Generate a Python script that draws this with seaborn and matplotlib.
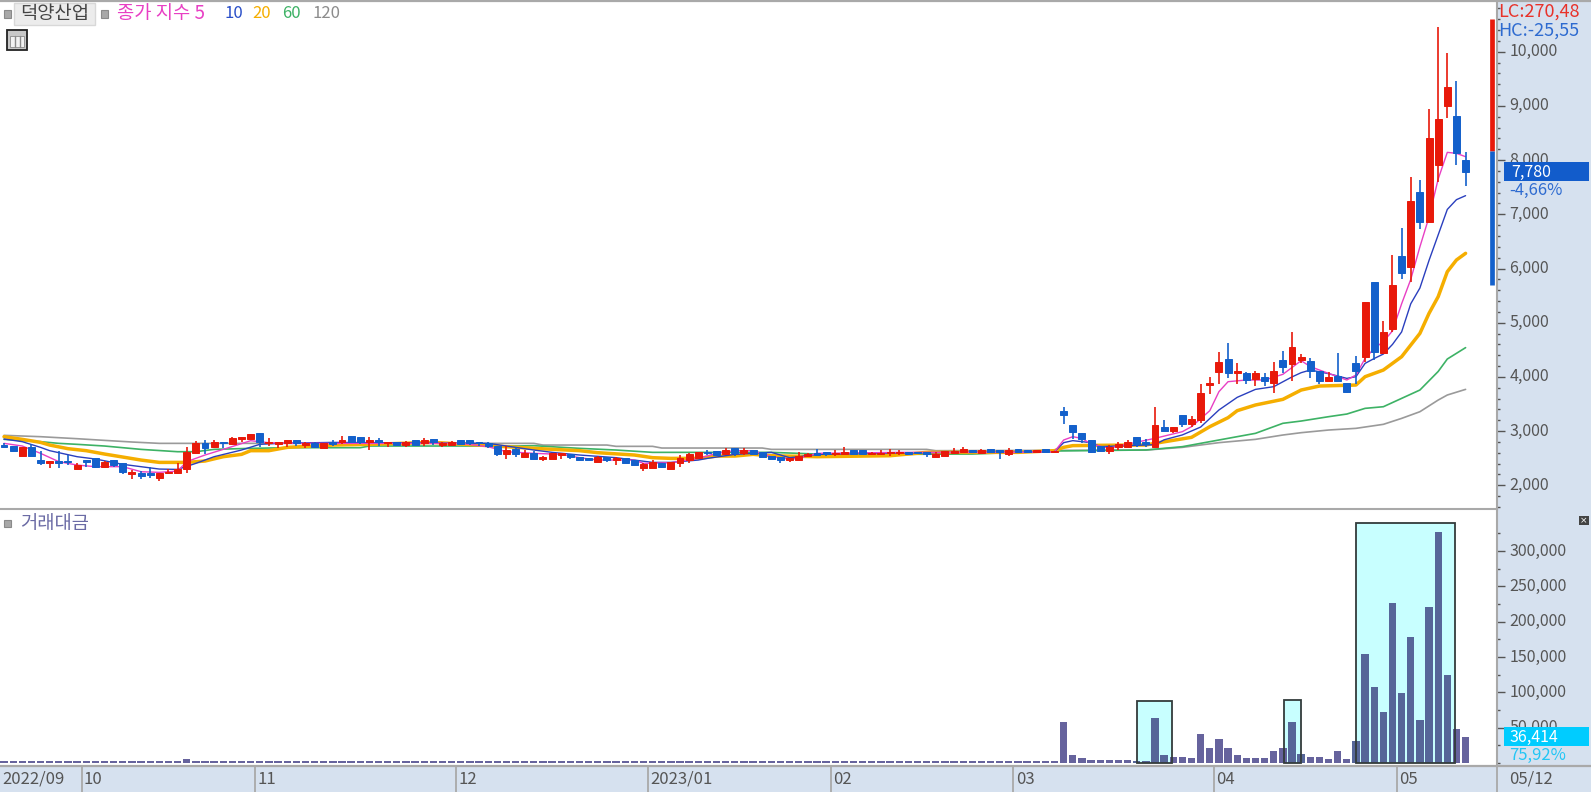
import matplotlib
matplotlib.use('Agg')
import matplotlib.pyplot as plt
from matplotlib.lines import Line2D
from matplotlib.patches import Rectangle
from matplotlib.ticker import FixedLocator, FuncFormatter
from matplotlib.transforms import ScaledTranslation
import numpy as np
import pandas as pd
import seaborn as sns

# candles
price_open = [
    2731, 2725, 2540, 2700, 2466, 2417, 2454, 2454, 2294, 2448,
    2497, 2344, 2466, 2405, 2208, 2233, 2220, 2128, 2220, 2220,
    2294, 2602, 2774, 2712, 2805, 2762, 2848, 2848, 2971, 2774,
    2756, 2774, 2835, 2743, 2774, 2694, 2805, 2792, 2915, 2897,
    2805, 2835, 2774, 2792, 2749, 2835, 2774, 2854, 2743, 2749,
    2835, 2835, 2805, 2774, 2725, 2577, 2663, 2516, 2590, 2485,
    2485, 2559, 2577, 2528, 2497, 2430, 2528, 2466, 2497, 2466,
    2313, 2319, 2417, 2294, 2405, 2466, 2510, 2620, 2639, 2571,
    2682, 2590, 2651, 2608, 2546, 2516, 2466, 2466, 2546, 2571,
    2590, 2571, 2571, 2651, 2651, 2571, 2571, 2590, 2590, 2608,
    2608, 2596, 2516, 2546, 2590, 2620, 2639, 2590, 2669, 2633,
    2571, 2669, 2652, 2621, 2664, 2608, 3365, 3113, 2971, 2836,
    2725, 2633, 2713, 2713, 2891, 2793, 2701, 3082, 3002, 3303,
    3125, 3205, 3851, 4091, 4337, 4066, 4066, 3961, 4005, 3881,
    4306, 4232, 4312, 4299, 4109, 3924, 4022, 3893, 4250, 4361,
    5744, 4447, 4890, 6237, 6034, 7405, 6864, 7916, 8992, 8820, 8000,
]
price_close = [
    2706, 2626, 2712, 2540, 2405, 2436, 2405, 2423, 2374, 2430,
    2344, 2423, 2374, 2239, 2251, 2177, 2190, 2233, 2251, 2306,
    2608, 2786, 2682, 2805, 2774, 2866, 2885, 2946, 2805, 2805,
    2805, 2835, 2774, 2774, 2712, 2774, 2768, 2835, 2805, 2792,
    2835, 2792, 2805, 2743, 2792, 2743, 2835, 2792, 2774, 2792,
    2762, 2774, 2774, 2725, 2571, 2651, 2577, 2602, 2485, 2510,
    2602, 2602, 2516, 2466, 2466, 2516, 2466, 2485, 2405, 2374,
    2393, 2423, 2344, 2423, 2510, 2571, 2608, 2590, 2559, 2651,
    2590, 2651, 2571, 2516, 2485, 2466, 2485, 2546, 2577, 2559,
    2577, 2590, 2620, 2577, 2571, 2590, 2590, 2608, 2608, 2577,
    2590, 2577, 2571, 2639, 2639, 2669, 2620, 2651, 2620, 2620,
    2651, 2608, 2608, 2652, 2608, 2639, 3291, 2977, 2848, 2621,
    2633, 2701, 2756, 2805, 2762, 2762, 3113, 3008, 3082, 3125,
    3223, 3697, 3894, 4281, 4066, 4115, 3943, 4066, 3925, 4115,
    4177, 4558, 4374, 4109, 3924, 4004, 3930, 3727, 4115, 5388,
    4459, 4834, 5695, 5923, 7239, 6864, 8402, 8765, 9343, 8125, 7780,
]
price_high = [
    2774, 2725, 2712, 2762, 2639, 2454, 2639, 2559, 2405, 2466,
    2497, 2448, 2466, 2405, 2282, 2270, 2331, 2233, 2300, 2417,
    2700, 2817, 2835, 2835, 2805, 2885, 2897, 2946, 2971, 2866,
    2805, 2835, 2835, 2792, 2805, 2774, 2835, 2915, 2915, 2897,
    2885, 2866, 2805, 2792, 2823, 2835, 2866, 2854, 2792, 2817,
    2835, 2835, 2805, 2805, 2725, 2725, 2712, 2651, 2639, 2540,
    2602, 2602, 2577, 2528, 2497, 2546, 2528, 2516, 2497, 2466,
    2405, 2466, 2417, 2423, 2559, 2602, 2608, 2651, 2639, 2694,
    2682, 2694, 2651, 2608, 2546, 2516, 2485, 2620, 2602, 2663,
    2620, 2651, 2700, 2651, 2651, 2620, 2651, 2669, 2651, 2608,
    2608, 2620, 2620, 2639, 2682, 2700, 2639, 2669, 2669, 2639,
    2682, 2669, 2652, 2652, 2664, 2639, 3451, 3113, 2971, 2836,
    2725, 2744, 2805, 2836, 2891, 2848, 3451, 3205, 3082, 3303,
    3285, 3863, 4005, 4453, 4620, 4250, 4097, 4115, 4066, 4281,
    4478, 4835, 4423, 4342, 4109, 4096, 4447, 3893, 4385, 5388,
    5744, 5037, 6249, 6741, 7682, 7633, 8943, 10450, 9982, 9460, 8156,
]
price_low = [
    2694, 2626, 2540, 2540, 2374, 2313, 2313, 2374, 2294, 2344,
    2313, 2313, 2344, 2208, 2116, 2116, 2140, 2085, 2208, 2208,
    2233, 2590, 2577, 2694, 2682, 2743, 2792, 2848, 2712, 2731,
    2682, 2712, 2731, 2694, 2694, 2694, 2731, 2756, 2805, 2762,
    2651, 2731, 2712, 2743, 2700, 2743, 2731, 2743, 2700, 2749,
    2762, 2743, 2731, 2682, 2540, 2485, 2528, 2516, 2485, 2454,
    2485, 2485, 2485, 2466, 2466, 2430, 2423, 2374, 2405, 2374,
    2263, 2319, 2313, 2294, 2344, 2405, 2510, 2559, 2546, 2571,
    2546, 2559, 2571, 2516, 2485, 2405, 2436, 2466, 2516, 2540,
    2546, 2540, 2571, 2577, 2571, 2571, 2571, 2546, 2559, 2577,
    2590, 2516, 2516, 2546, 2590, 2590, 2590, 2590, 2620, 2479,
    2540, 2608, 2608, 2590, 2608, 2590, 3125, 2848, 2787, 2590,
    2633, 2572, 2652, 2713, 2713, 2713, 2701, 3008, 2959, 3082,
    3082, 3144, 3679, 3869, 3974, 3869, 3869, 3838, 3838, 3697,
    4066, 3925, 4250, 3985, 3869, 3924, 3930, 3697, 3869, 4281,
    4311, 4447, 4834, 5800, 5757, 6723, 6864, 7602, 8771, 7910, 7522,
]

# moving averages, read at the candles where the line bends
ma5_x = [0, 2, 4, 6, 8, 10, 13, 15, 17, 19, 20, 22, 24, 27, 29, 31, 36, 50, 53, 55, 58, 61, 63, 65,
         69, 70, 73, 76, 78, 80, 82, 84, 86, 87, 89, 98, 111, 115, 116, 117, 118, 119, 121, 122, 126,
         129, 130, 132, 133, 134, 136, 138, 140, 142, 143, 145, 147, 148, 149, 150, 151, 152, 153,
         154, 155, 156, 157, 158, 159, 160]
ma5_y = [2774, 2725, 2590, 2436, 2374, 2344, 2344, 2251, 2239, 2263, 2436, 2559, 2663, 2823, 2786,
         2774, 2774, 2774, 2712, 2620, 2590, 2571, 2510, 2466, 2466, 2405, 2417, 2497, 2590, 2639,
         2639, 2528, 2485, 2497, 2590, 2608, 2608, 2621, 2836, 2897, 2866, 2762, 2682, 2725, 2867,
         2990, 3082, 3377, 3728, 3912, 3943, 3943, 4048, 4300, 4190, 4065, 3943, 4035, 4342, 4527,
         4650, 4850, 5350, 5800, 6400, 6950, 7650, 8143, 8125, 8063]
ma10_x = [0, 2, 4, 5, 8, 10, 13, 17, 19, 21, 23, 26, 28, 30, 36, 53, 55, 58, 60, 63, 67, 69, 71, 73,
          76, 77, 80, 84, 86, 87, 89, 94, 105, 111, 115, 116, 117, 119, 120, 126, 127, 129, 131, 133,
          135, 137, 139, 141, 142, 143, 145, 147, 148, 149, 150, 151, 152, 153, 154, 155, 156, 157,
          158, 159, 160]
ma10_y = [2854, 2805, 2700, 2639, 2528, 2485, 2387, 2300, 2294, 2405, 2528, 2651, 2756, 2774, 2792,
          2774, 2725, 2651, 2608, 2559, 2510, 2466, 2423, 2423, 2466, 2497, 2571, 2608, 2510, 2528,
          2571, 2590, 2608, 2608, 2621, 2787, 2824, 2787, 2713, 2750, 2840, 2930, 3075, 3390, 3623,
          3770, 3820, 4000, 4078, 4127, 4060, 3973, 4004, 4250, 4340, 4422, 4600, 4830, 5350, 5640,
          6150, 6620, 7090, 7270, 7344]
ma20_x = [0, 2, 4, 5, 7, 9, 11, 15, 17, 20, 22, 24, 26, 27, 29, 31, 36, 40, 47, 58, 63, 65, 69, 71,
          73, 76, 78, 80, 82, 84, 89, 97, 101, 106, 111, 115, 116, 117, 120, 125, 126, 130, 132, 134,
          135, 137, 140, 142, 144, 148, 149, 151, 153, 155, 156, 157, 158, 159, 160]
ma20_y = [2897, 2848, 2792, 2743, 2676, 2639, 2577, 2466, 2423, 2423, 2448, 2528, 2571, 2639, 2639,
          2700, 2743, 2756, 2792, 2682, 2639, 2602, 2559, 2510, 2497, 2497, 2540, 2540, 2571, 2546,
          2528, 2546, 2608, 2608, 2608, 2639, 2701, 2732, 2738, 2744, 2775, 2885, 3082, 3248, 3377,
          3482, 3586, 3758, 3832, 3850, 4004, 4127, 4373, 4803, 5173, 5480, 5941, 6157, 6280]
ma60_x = [0, 4, 6, 8, 11, 13, 15, 19, 21, 23, 27, 31, 39, 40, 56, 58, 63, 67, 71, 84, 89, 97, 106,
          115, 125, 129, 133, 137, 140, 142, 145, 147, 149, 151, 153, 155, 157, 158, 160]
ma60_y = [2848, 2805, 2774, 2756, 2725, 2694, 2663, 2620, 2620, 2663, 2682, 2694, 2694, 2725, 2725,
          2731, 2682, 2651, 2608, 2608, 2577, 2571, 2577, 2633, 2652, 2713, 2836, 2959, 3144, 3186,
          3266, 3315, 3420, 3450, 3604, 3758, 4100, 4330, 4540]
ma120_x = [0, 4, 8, 11, 14, 17, 58, 59, 66, 67, 71, 72, 83, 84, 101, 102, 125, 129, 133, 137, 140,
           142, 145, 148, 151, 153, 155, 157, 158, 160]
ma120_y = [2922, 2897, 2860, 2829, 2799, 2774, 2774, 2743, 2743, 2719, 2719, 2688, 2688, 2663, 2663,
           2639, 2650, 2700, 2787, 2848, 2928, 2971, 3020, 3051, 3125, 3235, 3358, 3573, 3666, 3770]

# trading value panel
trade_value = [
    2500, 2500, 2500, 2500, 2500, 2500, 2500, 2500, 2500, 2500,
    2500, 2500, 2500, 2500, 2500, 2500, 2500, 2500, 2500, 2500,
    5000, 3000, 2500, 2500, 2500, 2500, 2500, 2500, 2500, 2500,
    2500, 2500, 2500, 2500, 2500, 2500, 2500, 2500, 2500, 2500,
    2500, 2500, 2500, 2500, 2500, 2500, 2500, 2500, 2500, 2500,
    2500, 2500, 2500, 2500, 2500, 2500, 2500, 2500, 2500, 2500,
    2500, 2500, 2500, 2500, 2500, 2500, 2500, 2500, 2500, 2500,
    2500, 2500, 2500, 2500, 2500, 2500, 2500, 2500, 2500, 2500,
    2500, 2500, 2500, 2500, 2500, 2500, 2500, 2500, 2500, 2500,
    2500, 2500, 2500, 2500, 2500, 2500, 2500, 2500, 2500, 2500,
    2500, 2500, 2500, 2500, 2500, 2500, 2500, 2500, 2500, 2500,
    2500, 2500, 2800, 2800, 2800, 2800, 57600, 10900, 6600, 4200,
    4200, 4200, 4200, 4200, 2800, 2800, 64200, 10900, 8500, 8500,
    6600, 40600, 21700, 34000, 21700, 10900, 6600, 6600, 6600, 17500,
    21700, 57600, 12700, 8500, 8000, 5700, 16500, 5700, 30700, 154600,
    107900, 72600, 226100, 99100, 177900, 60900, 220400, 326600, 124600, 48100, 36414,
]
box_start = [124.0, 140.1, 148.0]
box_end = [127.9, 142.0, 158.8]
box_top = [87800, 89200, 339800]

month_pos = [8.5, 27.5, 49.5, 70.5, 90.5, 110.5, 132.5, 152.5]
month_labels = ['10', '11', '12', '2023/01', '02', '03', '04', '05']

# red/blue range bar next to the price axis
range_high = 10603
range_mid = 8168
range_low = 5694

RED = '#E8190A'
BLUE = '#1360CB'
BAND = '#D6E1EF'
LINE = '#A9A9A9'
TICK = '#555555'
W, H = 1591, 792


def fx(x):
    return x / W


def fy(y):
    return 1 - y / H


sns.set_theme(style='white')
plt.rcParams['font.family'] = ['Noto Sans CJK KR', 'DejaVu Sans']

fig = plt.figure(figsize=(W / 100, H / 100), dpi=100, facecolor=BAND)
ax = fig.add_axes([0, fy(509), fx(1497), (509 - 2) / H], facecolor='white')
ax2 = fig.add_axes([0, fy(766), fx(1497), (766 - 509) / H], facecolor='white')

idx = np.arange(len(price_open))
o = np.array(price_open)
c = np.array(price_close)
up = c >= o
colors = np.where(up, RED, BLUE)

# moving averages sit under the candles
for xs, ys, col, lw in [(ma120_x, ma120_y, '#9A9A9A', 1.2),
                        (ma60_x, ma60_y, '#3DB265', 1.2),
                        (ma20_x, ma20_y, '#F5AE00', 2.5),
                        (ma10_x, ma10_y, '#2A3FBE', 1.0),
                        (ma5_x, ma5_y, '#E83FC4', 1.0)]:
    sns.lineplot(x=xs, y=ys, color=col, linewidth=lw, ax=ax, legend=False, errorbar=None, zorder=2)

ax.vlines(idx, price_low, price_high, colors=colors, linewidth=1.2, zorder=3)
body_low = np.minimum(o, c)
body_h = np.maximum(np.abs(c - o), 30)
ax.bar(idx, body_h, bottom=body_low, width=0.76, color=colors, edgecolor=colors, linewidth=0.7, zorder=4)

ax.vlines(162.9, range_mid, range_high, colors=RED, linewidth=3.4, zorder=3)
ax.vlines(162.9, range_low, range_mid, colors=BLUE, linewidth=3.4, zorder=3)

ax.set_xlim(-0.44, 163.44)
ax.set_ylim(1563, 10917)
ax.set_xticks([])
ax.set_xlabel('')
ax.yaxis.tick_right()
ax.yaxis.set_major_locator(FixedLocator(np.arange(2000, 10001, 1000)))
ax.yaxis.set_minor_locator(FixedLocator(np.arange(1600, 10801, 200)))
ax.yaxis.set_major_formatter(FuncFormatter(lambda v, p: f'{int(v):,}'))

frame = pd.DataFrame({'idx': idx, 'value': trade_value})
frame['boxed'] = False
for a, b in zip(box_start, box_end):
    frame.loc[(frame['idx'] >= a) & (frame['idx'] <= b), 'boxed'] = True

for a, b, t in zip(box_start, box_end, box_top):
    ax2.add_patch(Rectangle((a, 0), b - a, t, facecolor='#C8FFFF', edgecolor='none', zorder=0.5))
sns.barplot(data=frame, x='idx', y='value', hue='boxed', palette={False: '#66639D', True: '#566699'},
            native_scale=True, dodge=False, width=0.8, saturation=1, linewidth=0, legend=False, ax=ax2)
for a, b, t in zip(box_start, box_end, box_top):
    ax2.add_patch(Rectangle((a, 0), b - a, t, facecolor='none', edgecolor='#333B3B', linewidth=1.3, zorder=5))

ax2.set_xlim(-0.44, 163.44)
ax2.set_ylim(-4248, 359664)
ax2.set_xlabel('')
ax2.set_ylabel('')
ax.set_ylabel('')
ax2.yaxis.tick_right()
ax2.yaxis.set_major_locator(FixedLocator(np.arange(50000, 300001, 50000)))
ax2.yaxis.set_minor_locator(FixedLocator(np.arange(0, 325001, 25000)))
ax2.yaxis.set_major_formatter(FuncFormatter(lambda v, p: f'{int(v):,}'))

# month separators run down through the date band
ax2.set_xticks(month_pos + [163.44])
ax2.set_xticklabels([])
ax2.tick_params(axis='x', length=19, width=1.3, color=LINE, bottom=True)

label_shift = ScaledTranslation(0, 2 / 72 * 72 / 100, fig.dpi_scale_trans)
for a in (ax, ax2):
    a.tick_params(axis='y', which='major', right=True, length=6, width=1, color=TICK, labelcolor=TICK,
                  labelsize=11.5, pad=3)
    a.tick_params(axis='y', which='minor', right=True, length=2.5, width=1, color=TICK)
    # labels sit a touch above their ticks in the reference
    for tick in a.yaxis.get_major_ticks():
        tick.label2.set_transform(tick.label2.get_transform() + label_shift)
    for side in ('top', 'left', 'bottom', 'right'):
        a.spines[side].set_visible(False)
    a.spines['right'].set_visible(True)
    a.spines['right'].set_color(LINE)
    a.spines['right'].set_linewidth(1.5)
ax2.spines['top'].set_visible(True)
ax2.spines['top'].set_color(LINE)
ax2.spines['top'].set_linewidth(1.5)

fig.add_artist(Line2D([0, 1], [fy(1), fy(1)], color=LINE, linewidth=1.6))
fig.add_artist(Line2D([0, 1], [fy(766), fy(766)], color=LINE, linewidth=1.6))

# date band
fig.text(fx(2), fy(779), '2022/09', fontsize=12, color=TICK, va='center')
for m, lab in zip(month_pos, month_labels):
    ax2.annotate(lab, xy=(m, 0), xycoords=('data', 'axes fraction'), xytext=(1.6, -9.5),
                 textcoords='offset points', fontsize=12, color=TICK, va='center',
                 annotation_clip=False)
fig.text(fx(1509), fy(779), '05/12', fontsize=12, color=TICK, va='center')


def bullet(x, y):
    fig.add_artist(Rectangle((fx(x - 3.5), fy(y + 3.5)), 7 / W, 7 / H, transform=fig.transFigure,
                             facecolor='#A8A8A8', edgecolor='#8A8A8A', linewidth=0.8))


# header of the price panel
bullet(7, 14)
fig.add_artist(Rectangle((fx(14), fy(25)), 81 / W, 22 / H, transform=fig.transFigure,
                         facecolor='#ECECEC', edgecolor='#D8D8D8', linewidth=1))
fig.text(fx(20), fy(14), '덕양산업', fontsize=13.5, color='#444444', va='center')
bullet(104, 14)
fig.text(fx(117), fy(14), '종가 지수 5', fontsize=13.5, color='#E83FC4', va='center')
for x, lab, col in [(224, '10', '#2A4FC8'), (252, '20', '#F5AE00'),
                    (282, '60', '#3DB265'), (313, '120', '#8C8C8C')]:
    fig.text(fx(x), fy(14), lab, fontsize=12, color=col, va='center')

# table icon
fig.add_artist(Rectangle((fx(7), fy(50)), 20 / W, 20 / H, transform=fig.transFigure,
                         facecolor='#C8C8C8', edgecolor='#222222', linewidth=1.3))
fig.add_artist(Rectangle((fx(10), fy(47)), 14 / W, 11 / H, transform=fig.transFigure,
                         facecolor='#F2F2F2', edgecolor='#8A8A8A', linewidth=0.6))
for x in (14.5, 19.5):
    fig.add_artist(Line2D([fx(x), fx(x)], [fy(47), fy(36)], color='#8A8A8A', linewidth=1))

# header of the lower panel
bullet(7, 523)
fig.text(fx(20), fy(524), '거래대금', fontsize=13.5, color='#6B6BA5', va='center')
fig.add_artist(Rectangle((fx(1579), fy(525)), 10 / W, 9 / H, transform=fig.transFigure,
                         facecolor='#444444', edgecolor='none'))
fig.text(fx(1584), fy(520.5), '×', fontsize=6.5, color='white', ha='center', va='center',
         family=['DejaVu Sans'])

# readouts on the right
fig.text(fx(1498), fy(12), 'LC:270,48', fontsize=13, color='#E8322A', va='center')
fig.text(fx(1498), fy(31), 'HC:-25,55', fontsize=13, color='#2E6BD0', va='center')

fig.add_artist(Rectangle((fx(1504), fy(181)), 85 / W, 19 / H, transform=fig.transFigure,
                         facecolor='#125CCB', edgecolor='none'))
fig.text(fx(1511), fy(172), '7,780', fontsize=11.5, color='white', va='center')
fig.text(fx(1509), fy(190), '-4,66%', fontsize=12, color='#2E6BD0', va='center')

fig.add_artist(Rectangle((fx(1504), fy(746)), 85 / W, 19 / H, transform=fig.transFigure,
                         facecolor='#00CCFF', edgecolor='none'))
fig.text(fx(1509), fy(737), '36,414', fontsize=11.5, color='white', va='center')
fig.text(fx(1509), fy(755), '75,92%', fontsize=12, color='#22C6F5', va='center')

fig.savefig('out.png', dpi=100, facecolor=BAND)
